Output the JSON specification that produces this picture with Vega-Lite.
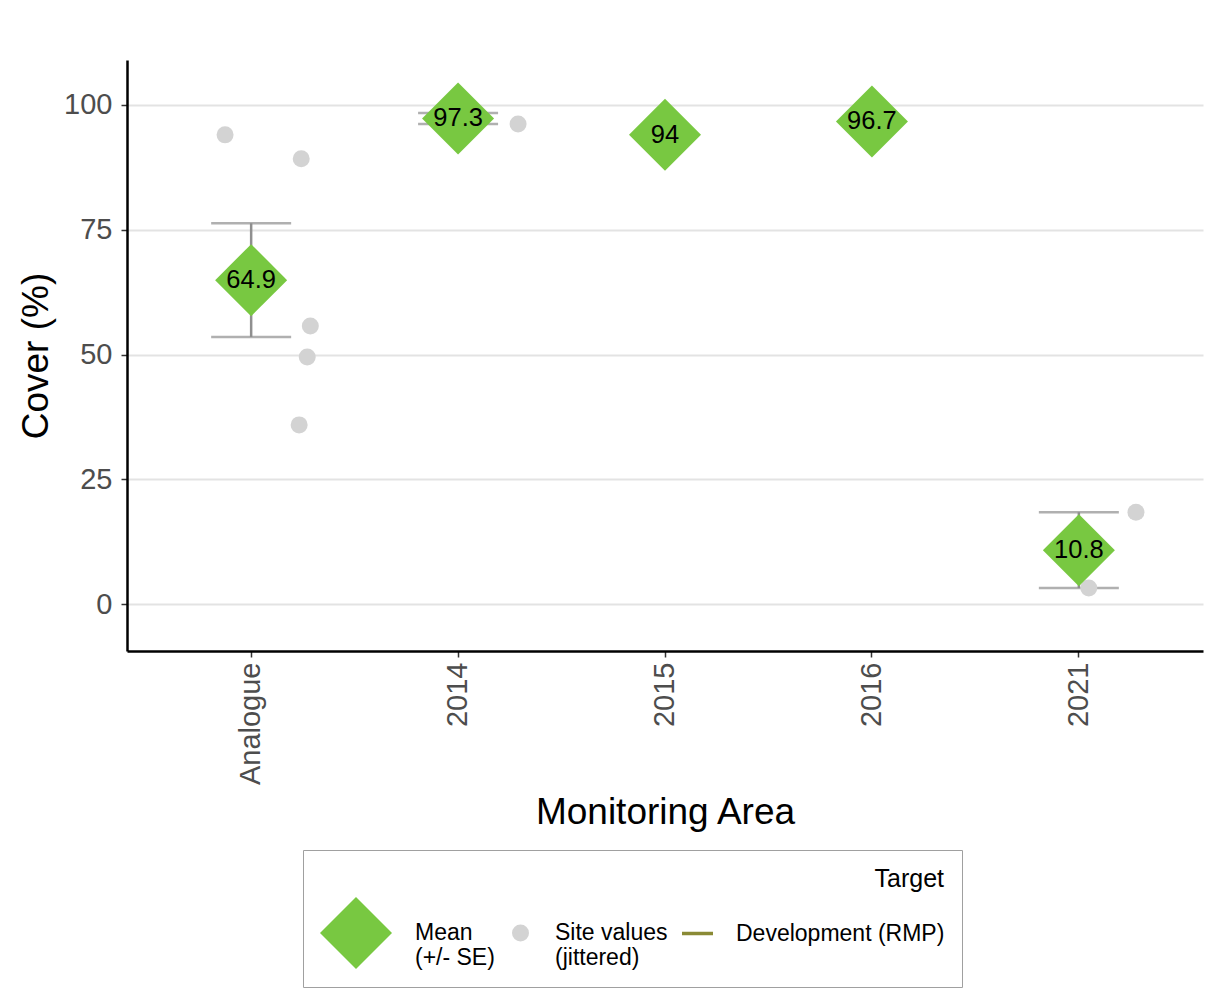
{
  "$schema": "https://vega.github.io/schema/vega-lite/v6.json",
  "autosize": {"type": "none"},
  "padding": {"left": 127, "top": 60, "right": 23, "bottom": 346},
  "width": 1076,
  "height": 591,
  "background": "white",
  "config": {
    "font": "Liberation Sans",
    "view": {"stroke": null},
    "axis": {
      "domainColor": "black",
      "domainWidth": 2.5,
      "tickColor": "#333333",
      "tickWidth": 1.5,
      "tickSize": 6,
      "labelColor": "#4D4D4D",
      "labelFontSize": 29,
      "titleColor": "black",
      "titleFontSize": 37,
      "titleFontWeight": "normal"
    },
    "legend": {
      "orient": "none", "legendX": 176, "legendY": 790, "direction": "horizontal",
      "titleAnchor": "end", "titleFontSize": 25, "titleFontWeight": "normal", "titleColor": "black", "titlePadding": 5,
      "labelFontSize": 23, "labelColor": "black", "labelOffset": 23, "labelLimit": 500, "columnPadding": 14,
      "clipHeight": 72, "padding": 17, "strokeColor": "#A0A0A0",
      "symbolStrokeWidth": 0
    }
  },
  "data": {
    "values": [
      {"area": "Analogue", "series": "Site values\n(jittered)", "cover": 94.0, "jitter": -0.126},
      {"area": "Analogue", "series": "Site values\n(jittered)", "cover": 89.2, "jitter": 0.242},
      {"area": "Analogue", "series": "Site values\n(jittered)", "cover": 55.7, "jitter": 0.286},
      {"area": "Analogue", "series": "Site values\n(jittered)", "cover": 49.5, "jitter": 0.271},
      {"area": "Analogue", "series": "Site values\n(jittered)", "cover": 35.9, "jitter": 0.232},
      {"area": "2014", "series": "Site values\n(jittered)", "cover": 98.4, "jitter": 0.068},
      {"area": "2014", "series": "Site values\n(jittered)", "cover": 96.2, "jitter": 0.29},
      {"area": "2015", "series": "Site values\n(jittered)", "cover": 94.0, "jitter": -0.058},
      {"area": "2016", "series": "Site values\n(jittered)", "cover": 96.7, "jitter": 0.08},
      {"area": "2021", "series": "Site values\n(jittered)", "cover": 18.4, "jitter": 0.276},
      {"area": "2021", "series": "Site values\n(jittered)", "cover": 3.2, "jitter": 0.048},
      {"area": "Analogue", "series": "Mean\n(+/- SE)", "cover": 64.9, "jitter": 0, "lo": 53.5, "hi": 76.3},
      {"area": "2014", "series": "Mean\n(+/- SE)", "cover": 97.3, "jitter": 0, "lo": 96.2, "hi": 98.4},
      {"area": "2015", "series": "Mean\n(+/- SE)", "cover": 94.0, "jitter": 0, "lo": null, "hi": null},
      {"area": "2016", "series": "Mean\n(+/- SE)", "cover": 96.7, "jitter": 0, "lo": null, "hi": null},
      {"area": "2021", "series": "Mean\n(+/- SE)", "cover": 10.8, "jitter": 0, "lo": 3.2, "hi": 18.4}
    ]
  },
  "encoding": {
    "x": {
      "field": "area",
      "type": "nominal",
      "scale": {"type": "band", "domain": ["Analogue", "2014", "2015", "2016", "2021"], "paddingInner": 0, "paddingOuter": 0.1},
      "axis": {"title": "Monitoring Area", "labelAngle": 270, "labelPadding": 5, "titlePadding": 10, "grid": false}
    }
  },
  "layer": [
    {
      "transform": [{"filter": "datum.lo != null"}],
      "mark": {"type": "rule", "color": "#8F8F8F", "strokeWidth": 2.5},
      "encoding": {
        "y": {
          "field": "lo", "type": "quantitative",
          "scale": {"domain": [-9.4, 109], "nice": false, "zero": false},
          "axis": {"title": "Cover (%)", "values": [0, 25, 50, 75, 100], "grid": true, "gridColor": "#E3E3E3", "gridWidth": 2, "labelPadding": 9, "titlePadding": 8}
        },
        "y2": {"field": "hi"}
      }
    },
    {
      "transform": [{"filter": "datum.lo != null"}],
      "mark": {"type": "tick", "color": "#8F8F8F", "size": 80, "thickness": 2.5},
      "encoding": {"y": {"field": "lo", "type": "quantitative"}}
    },
    {
      "transform": [{"filter": "datum.hi != null"}],
      "mark": {"type": "tick", "color": "#8F8F8F", "size": 80, "thickness": 2.5},
      "encoding": {"y": {"field": "hi", "type": "quantitative"}}
    },
    {
      "mark": {"type": "point", "filled": true, "strokeWidth": 0, "opacity": 1},
      "encoding": {
        "y": {"field": "cover", "type": "quantitative"},
        "xOffset": {"field": "jitter", "type": "quantitative", "scale": {"domain": [-0.5, 0.5], "nice": false, "zero": false}},
        "color": {
          "field": "series", "type": "nominal",
          "scale": {"domain": ["Mean\n(+/- SE)", "Site values\n(jittered)", "Development (RMP)"], "range": ["#78C841", "#D3D3D3", "#8A8A35"]},
          "legend": {
            "title": "Target",
            "labelExpr": "split(datum.label, '\\n')",
            "encode": {
              "title": {"dx": {"value": -53}},
              "labels": {
                "lineHeight": {"value": 27},
                "dy": {"condition": {"test": "indexof(datum.value, '\\n') >= 0", "value": -13.5}, "value": 0}
              }
            }
          }
        },
        "shape": {
          "field": "series", "type": "nominal",
          "scale": {"domain": ["Mean\n(+/- SE)", "Site values\n(jittered)", "Development (RMP)"], "range": ["diamond", "circle", "M-1,-0.12H1V0.12H-1Z"]},
          "legend": {
            "title": "Target",
            "labelExpr": "split(datum.label, '\\n')",
            "encode": {
              "title": {"dx": {"value": -53}},
              "labels": {
                "lineHeight": {"value": 27},
                "dy": {"condition": {"test": "indexof(datum.value, '\\n') >= 0", "value": -13.5}, "value": 0}
              }
            }
          }
        },
        "size": {
          "field": "series", "type": "nominal",
          "scale": {"type": "ordinal", "domain": ["Mean\n(+/- SE)", "Site values\n(jittered)", "Development (RMP)"], "range": [5184, 289, 961]},
          "legend": {
            "title": "Target",
            "labelExpr": "split(datum.label, '\\n')",
            "encode": {
              "title": {"dx": {"value": -53}},
              "labels": {
                "lineHeight": {"value": 27},
                "dy": {"condition": {"test": "indexof(datum.value, '\\n') >= 0", "value": -13.5}, "value": 0}
              }
            }
          }
        }
      }
    },
    {
      "transform": [{"filter": "datum.jitter == 0"}],
      "mark": {"type": "text", "fontSize": 25.5, "color": "black", "baseline": "middle", "align": "center"},
      "encoding": {
        "y": {"field": "cover", "type": "quantitative"},
        "text": {"field": "cover", "type": "quantitative", "format": ".1~f"}
      }
    }
  ]
}
